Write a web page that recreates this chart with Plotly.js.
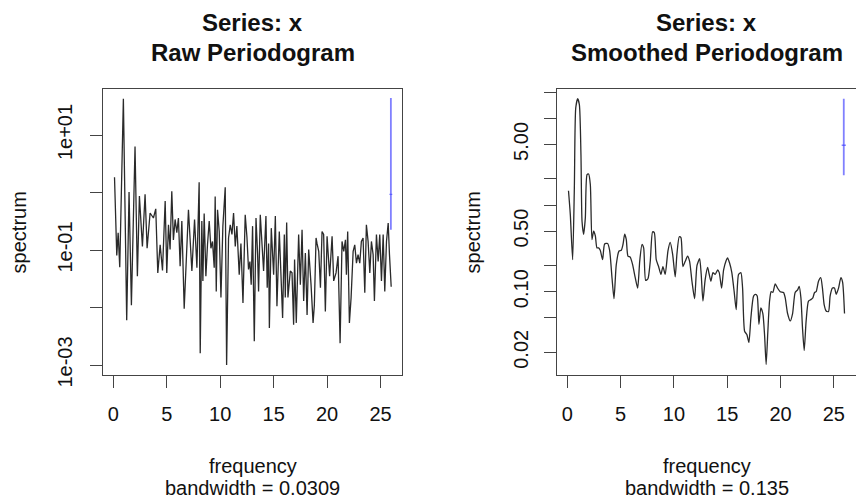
<!DOCTYPE html>
<html>
<head>
<meta charset="utf-8">
<script src="https://cdn.plot.ly/plotly-3.0.1.min.js"></script>
<style>html,body{margin:0;padding:0;background:#fff;}#chart{width:856px;height:504px;}</style>
</head>
<body>
<div id="chart"></div>
<script>
// ---- Raw periodogram (frequency, spectrum) ----
const rawFreq = [0.11,0.32,0.45,0.6,0.94,1.25,1.47,1.69,2.03,2.25,2.44,2.72,2.97,3.16,3.44,3.75,3.97,4.16,4.38,4.6,4.85,5.0,5.16,5.31,5.47,5.62,5.78,5.94,6.09,6.25,6.41,6.63,7.03,7.35,7.6,7.82,8.03,8.13,8.28,8.38,8.5,8.66,8.81,8.97,9.13,9.28,9.44,9.53,9.63,9.75,9.91,10.07,10.25,10.47,10.6,10.78,10.94,11.1,11.25,11.41,11.56,11.78,11.94,12.13,12.34,12.5,12.65,12.78,12.9,13.03,13.19,13.35,13.5,13.59,13.75,14.06,14.28,14.4,14.53,14.6,14.78,15.0,15.16,15.31,15.53,15.84,16.0,16.09,16.22,16.34,16.56,16.72,16.87,16.96,17.12,17.34,17.5,17.66,17.81,17.97,18.13,18.28,18.5,18.69,18.81,18.97,19.06,19.22,19.38,19.53,19.68,19.84,20.0,20.24,20.47,20.62,20.84,21.03,21.22,21.4,21.56,21.72,21.81,21.93,22.09,22.25,22.44,22.59,22.75,22.9,23.06,23.21,23.37,23.53,23.68,23.84,24.0,24.15,24.31,24.43,24.62,24.78,24.93,25.09,25.25,25.4,25.56,25.72,25.84,26.0];
const rawSpec = [1.84,0.08,0.2,0.05,42.7,0.006,1.02,0.011,6.3,0.035,0.87,0.115,0.93,0.107,0.44,0.36,0.52,0.04,0.123,0.044,0.71,0.04,0.275,0.102,1.05,0.15,0.34,0.2,0.36,0.052,0.32,0.0095,0.5,0.043,0.34,0.049,1.5,0.0016,0.32,0.029,0.43,0.035,0.123,0.32,0.107,0.141,0.049,0.85,0.019,0.5,0.21,0.015,0.26,1.23,0.001,0.162,0.275,0.186,0.44,0.115,0.26,0.037,0.13,0.012,0.41,0.17,0.046,0.063,0.025,0.26,0.0026,0.36,0.083,0.019,0.41,0.043,0.39,0.022,0.13,0.0044,0.24,0.037,0.39,0.0105,0.21,0.0066,0.186,0.015,0.3,0.015,0.043,0.04,0.005,0.068,0.0054,0.186,0.025,0.224,0.013,0.089,0.0074,0.102,0.025,0.0054,0.011,0.162,0.13,0.095,0.022,0.21,0.186,0.0085,0.174,0.035,0.174,0.029,0.04,0.078,0.0024,0.141,0.095,0.15,0.037,0.21,0.0054,0.015,0.095,0.123,0.059,0.083,0.059,0.141,0.162,0.018,0.275,0.141,0.04,0.141,0.083,0.013,0.186,0.063,0.186,0.029,0.186,0.019,0.141,0.295,0.083,0.023];

// ---- Smoothed periodogram (frequency, spectrum) ----
const smFreq = [0.11,0.28,0.5,0.66,0.79,0.97,1.13,1.28,1.38,1.53,1.69,1.85,2.0,2.16,2.31,2.47,2.63,2.78,2.94,3.09,3.31,3.5,3.78,3.97,4.19,4.38,4.59,4.85,5.06,5.22,5.38,5.53,5.69,5.9,6.13,6.37,6.6,6.79,7.0,7.16,7.35,7.56,7.78,8.0,8.16,8.34,8.56,8.78,8.97,9.18,9.44,9.65,9.88,10.12,10.28,10.5,10.66,10.84,11.06,11.28,11.47,11.69,11.94,12.16,12.41,12.56,12.72,12.93,13.16,13.31,13.47,13.66,13.87,14.1,14.25,14.47,14.66,14.9,15.03,15.22,15.43,15.65,15.84,16.06,16.28,16.44,16.63,16.84,17.03,17.22,17.47,17.66,17.81,17.97,18.15,18.34,18.5,18.65,18.81,18.97,19.12,19.28,19.5,19.72,19.97,20.28,20.44,20.66,20.91,21.13,21.37,21.6,21.75,21.91,22.06,22.22,22.4,22.62,22.84,23.03,23.19,23.34,23.56,23.77,23.93,24.09,24.28,24.5,24.65,24.87,25.06,25.22,25.44,25.66,25.82,26.0];
const smSpec = [1.46,0.78,0.234,1.57,13.2,16.8,14.4,3.8,0.65,0.46,0.71,2.24,2.28,1.71,0.4,0.5,0.44,0.32,0.32,0.3,0.234,0.355,0.36,0.3,0.145,0.083,0.204,0.295,0.3,0.35,0.46,0.4,0.257,0.25,0.204,0.145,0.11,0.224,0.35,0.32,0.135,0.141,0.224,0.49,0.48,0.234,0.195,0.158,0.195,0.158,0.295,0.37,0.27,0.148,0.27,0.43,0.42,0.195,0.224,0.257,0.224,0.132,0.083,0.2,0.24,0.158,0.078,0.138,0.19,0.158,0.132,0.166,0.158,0.178,0.166,0.11,0.178,0.229,0.245,0.214,0.166,0.1,0.062,0.158,0.166,0.11,0.035,0.032,0.026,0.05,0.089,0.093,0.089,0.042,0.065,0.056,0.032,0.0145,0.035,0.078,0.1,0.098,0.123,0.11,0.1,0.098,0.085,0.056,0.046,0.056,0.098,0.105,0.115,0.085,0.038,0.021,0.046,0.078,0.081,0.085,0.098,0.1,0.132,0.145,0.11,0.071,0.06,0.059,0.089,0.11,0.11,0.093,0.11,0.145,0.129,0.056];

// ---- Confidence bars: [lower, centre, upper] ----
const ciRawX = 25.97;
const ciRaw = [0.225, 0.93, 44];
const ciSmX = 25.93;
const ciSm = [2.2, 4.9, 16.8];

// ---- Tick labels ----
const xTicks = [0, 5, 10, 15, 20, 25];
const yRawTicks = [0.001, 0.01, 0.1, 1, 10];
const yRawLabels = ['1e-03', '', '1e-01', '', '1e+01'];
const ySmTicks = [0.02, 0.05, 0.1, 0.2, 0.5, 1, 2, 5, 10, 20];
const ySmLabels = ['0.02', '', '0.10', '', '0.50', '', '', '5.00', '', ''];

const titles = [['Series: x', 'Raw Periodogram'], ['Series: x', 'Smoothed Periodogram']];
const xLabel = 'frequency';
const bwLabels = ['bandwidth = 0.0309', 'bandwidth = 0.135'];
const yLabel = 'spectrum';

const FONT = 'Liberation Sans, Arial, Helvetica, sans-serif';
const LINE = '#2a2a2a';
const BLUE = '#8080ff';
const BOX = '#444';

const traces = [
  {x: rawFreq, y: rawSpec, xaxis: 'x', yaxis: 'y', mode: 'lines', line: {color: LINE, width: 1.3}, hoverinfo: 'skip'},
  {x: [ciRawX, ciRawX], y: [ciRaw[0], ciRaw[2]], xaxis: 'x', yaxis: 'y', mode: 'lines', line: {color: BLUE, width: 1.8}},
  {x: [ciRawX], y: [ciRaw[1]], xaxis: 'x', yaxis: 'y', mode: 'markers', marker: {symbol: 'line-ew', size: 2, line: {color: '#5050ff', width: 1}}},
  {x: smFreq, y: smSpec, xaxis: 'x2', yaxis: 'y2', mode: 'lines', line: {color: LINE, width: 1.3, shape: 'spline', smoothing: 0.6}},
  {x: [ciSmX, ciSmX], y: [ciSm[0], ciSm[2]], xaxis: 'x2', yaxis: 'y2', mode: 'lines', line: {color: BLUE, width: 1.8}},
  {x: [ciSmX], y: [ciSm[1]], xaxis: 'x2', yaxis: 'y2', mode: 'markers', marker: {symbol: 'line-ew', size: 3, line: {color: '#4040ff', width: 1}}}
];

const W = 856, H = 504;
const leftBox = [103.4, 402.3], rightBox = [557.4, 855.6];
const topPx = 89, botPx = 375;
const yDom = [1 - botPx / H, 1 - topPx / H];

function xAx(dom) {
  return {
    domain: [dom[0] / W, dom[1] / W], range: [-0.93, 27.04], type: 'linear',
    tickvals: xTicks, ticktext: xTicks.map(String), ticks: 'outside', ticklen: 12, tickwidth: 1, tickcolor: BOX,
    showline: true, mirror: true, linecolor: BOX, linewidth: 1, showgrid: false, zeroline: false,
    tickfont: {family: FONT, size: 20, color: '#111'}, ticklabelstandoff: 9, automargin: false, fixedrange: true
  };
}
function yAx(anchor, range, vals, labels, standoff) {
  return {
    anchor: anchor, domain: yDom, type: 'log', range: range,
    tickvals: vals, ticktext: labels, ticks: 'outside', ticklen: 12, tickwidth: 1, tickcolor: BOX, tickangle: -90,
    showline: true, mirror: true, linecolor: BOX, linewidth: 1, showgrid: false, zeroline: false,
    tickfont: {family: FONT, size: 20, color: '#111'}, ticklabelstandoff: standoff, automargin: false, fixedrange: true
  };
}

const ann = [];
[leftBox, rightBox].forEach((b, i) => {
  const cx = (b[0] + b[1]) / 2 / W;
  ann.push({text: '<b>' + titles[i][0] + '</b>', x: cx, y: 1 - 22.5 / H, xref: 'paper', yref: 'paper', showarrow: false, xanchor: 'center', yanchor: 'middle', font: {family: FONT, size: 24, color: '#111'}});
  ann.push({text: '<b>' + titles[i][1] + '</b>', x: cx, y: 1 - 53 / H, xref: 'paper', yref: 'paper', showarrow: false, xanchor: 'center', yanchor: 'middle', font: {family: FONT, size: 24, color: '#111'}});
  ann.push({text: xLabel, x: cx, y: 1 - 466 / H, xref: 'paper', yref: 'paper', showarrow: false, xanchor: 'center', yanchor: 'middle', font: {family: FONT, size: 20, color: '#111'}});
  ann.push({text: bwLabels[i], x: cx, y: 1 - 488 / H, xref: 'paper', yref: 'paper', showarrow: false, xanchor: 'center', yanchor: 'middle', font: {family: FONT, size: 20, color: '#111'}});
  ann.push({text: yLabel, x: (b[0] - 84) / W, y: 1 - ((topPx + botPx) / 2) / H, xref: 'paper', yref: 'paper', showarrow: false, xanchor: 'center', yanchor: 'middle', textangle: -90, font: {family: FONT, size: 20, color: '#111'}});
});

const layout = {
  width: W, height: H, margin: {l: 0, r: 0, t: 0, b: 0, pad: 0},
  paper_bgcolor: '#fff', plot_bgcolor: '#fff', showlegend: false,
  xaxis: xAx(leftBox),
  yaxis: yAx('x', [-3.174, 1.8], yRawTicks, yRawLabels, 10),
  xaxis2: Object.assign(xAx(rightBox), {anchor: 'y2'}),
  yaxis2: yAx('x2', [-1.961, 1.338], ySmTicks, ySmLabels, 8),
  annotations: ann
};
layout.xaxis.anchor = 'y';

Plotly.newPlot('chart', traces, layout, {displayModeBar: false, staticPlot: true});
</script>
</body>
</html>
